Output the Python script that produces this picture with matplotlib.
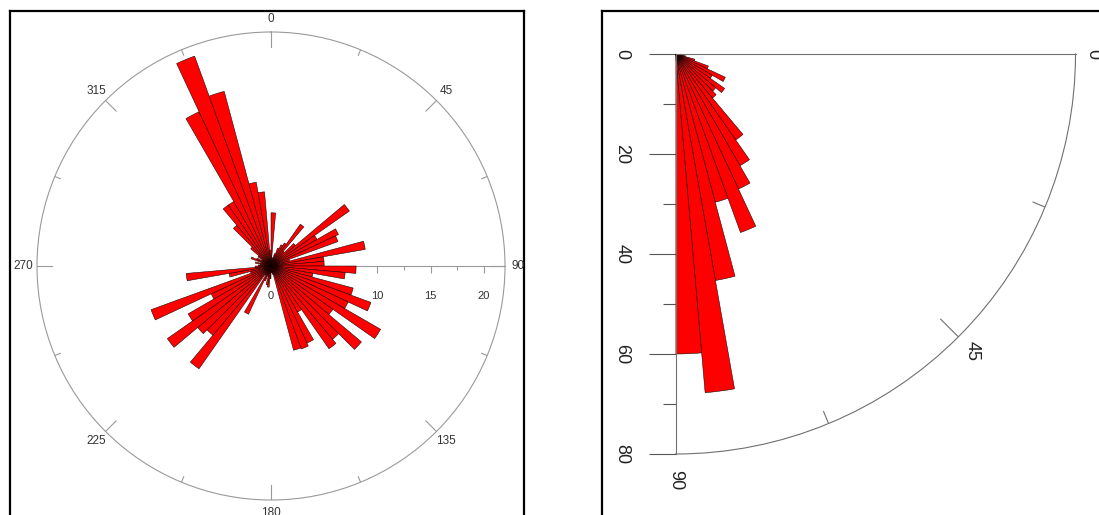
import numpy as np
import matplotlib
matplotlib.use("Agg")
import matplotlib.pyplot as plt

plt.rcParams["font.family"] = ["Liberation Sans", "DejaVu Sans"]

# left rose: 5 degree bins, compass angle (0 = north, clockwise)
strike_bins = np.arange(0, 360, 5)
strike_counts = [
    5.0, 0.6, 0.8, 1.2, 1.8, 2.2, 2.5, 4.8, 1.8, 3.0, 9.0, 5.0,      # 0-55
    7.0, 6.7, 1.8, 9.0, 5.0, 5.0, 8.0, 7.0, 4.0, 8.0, 10.0, 8.0,     # 60-115
    11.9, 7.1, 11.1, 9.0, 9.5, 5.0, 8.0, 8.3, 8.2, 0.8, 0.6, 0.6,   # 120-175
    1.2, 2.0, 1.8, 1.0, 1.5, 5.0, 1.0, 11.8, 8.5, 9.0, 11.9, 9.0,   # 180-235
    6.2, 12.0, 2.0, 4.0, 8.0, 1.5, 1.2, 1.0, 1.5, 1.0, 2.0, 1.5,    # 240-295
    1.0, 1.5, 2.5, 5.0, 7.0, 7.0, 16.0, 21.0, 17.0, 8.0, 7.0, 1.5,  # 300-355
]
strike_rmax = 22
strike_ticks = [0, 5, 10, 15, 20]
strike_minor = [2.5, 7.5, 12.5, 17.5]
compass_labels = [0, 45, 90, 135, 180, 225, 270, 315]

# right quarter rose: 5 degree bins, 0 = horizontal (east), 90 = down
dip_bins = np.arange(0, 90, 5)
dip_counts = [0.8, 1.2, 2.0, 4.0, 7.0, 11.0, 8.5, 12.0, 10.5,
              11.5, 21.0, 25.8, 29.8, 38.0, 30.7, 46.0, 68.0, 60.0]
dip_rmax = 80
dip_ticks = [0, 20, 40, 60, 80]
dip_minor = [10, 30, 50, 70]
dip_labels = [0, 45, 90]

W, H = 1099, 515
GREY = "#9a9a9a"


def box(x0, y0, w, h):
    # pixel box measured from the top-left corner -> figure fraction
    return [x0 / W, 1 - (y0 + h) / H, w / W, h / H]


def frame_axes(fig, rect):
    ax = fig.add_axes(rect, zorder=0)
    ax.set_xticks([])
    ax.set_yticks([])
    ax.patch.set_alpha(0)
    for sp in ax.spines.values():
        sp.set_linewidth(1.6)
        sp.set_color("black")
    return ax


fig = plt.figure(figsize=(W / 100, H / 100), dpi=100)

# ---------------- left panel ----------------
frame_axes(fig, box(10, 11, 514, 530))

cx, cy, R = 271, 266, 234
scale = fig.add_axes(box(cx - R, cy - R, 2 * R, 2 * R), zorder=1)
scale.patch.set_alpha(0)
scale.set_xlim(-strike_rmax, strike_rmax)
scale.set_ylim(-strike_rmax, strike_rmax)
for side in ("left", "right", "top"):
    scale.spines[side].set_visible(False)
scale.spines["bottom"].set_position(("data", 0))
scale.spines["bottom"].set_bounds(0, strike_rmax)
scale.spines["bottom"].set_color(GREY)
scale.spines["bottom"].set_linewidth(0.8)
scale.set_yticks([])
scale.set_xticks(strike_ticks)
scale.set_xticks(strike_minor, minor=True)
scale.tick_params(axis="x", which="major", length=5, width=0.8, color=GREY,
                  pad=13, labelsize=8, labelcolor="#333333")
scale.tick_params(axis="x", which="minor", length=3, width=0.8, color=GREY)

ax1 = fig.add_axes(box(cx - R, cy - R, 2 * R, 2 * R), projection="polar", zorder=2)
ax1.patch.set_alpha(0)
ax1.set_theta_zero_location("N")
ax1.set_theta_direction(-1)
ax1.bar(np.deg2rad(strike_bins), strike_counts, width=np.deg2rad(5), align="edge",
        color="#ff0000", edgecolor="black", linewidth=0.35)
ax1.set_ylim(0, strike_rmax)
ax1.set_xticks([])
ax1.set_yticks([])
ax1.grid(False)
ax1.spines["polar"].set_color(GREY)
ax1.spines["polar"].set_linewidth(0.8)
for a in np.arange(0, 360, 22.5):
    tl = 1.4 if a % 45 == 0 else 0.55
    ax1.plot([np.deg2rad(a)] * 2, [strike_rmax - tl, strike_rmax], color=GREY, lw=0.8)
for a in compass_labels:
    ax1.text(np.deg2rad(a), 23.25, str(a), ha="center", va="center",
             fontsize=8.5, color="#333333", clip_on=False)

# ---------------- right panel ----------------
frame_axes(fig, box(602, 11, 520, 530))

ox, oy, R2 = 675.5, 54, 400
ax2 = fig.add_axes(box(ox, oy, R2, R2), projection="polar", zorder=2)
ax2.patch.set_alpha(0)
ax2.set_theta_zero_location("E")
ax2.set_theta_direction(-1)
ax2.set_thetamin(0)
ax2.set_thetamax(90)
ax2.bar(np.deg2rad(dip_bins), dip_counts, width=np.deg2rad(5), align="edge",
        color="#ff0000", edgecolor="black", linewidth=0.35)
ax2.set_ylim(0, dip_rmax)
ax2.set_xticks([])
ax2.set_yticks([])
ax2.grid(False)
for name in ("polar", "start", "end"):
    ax2.spines[name].set_color("#707070")
    ax2.spines[name].set_linewidth(0.8)
for a in (22.5, 45, 67.5):
    tl = 5 if a == 45 else 2.6
    ax2.plot([np.deg2rad(a)] * 2, [dip_rmax - tl, dip_rmax], color="#707070", lw=0.8)
for a, rr in zip(dip_labels, (83.5, 84, 85.2)):
    ax2.text(np.deg2rad(a), rr, str(a), ha="center", va="center", rotation=-90,
             fontsize=13, color="#222222", clip_on=False)

rad = fig.add_axes(box(ox, oy, R2, R2), zorder=1)
rad.patch.set_alpha(0)
for sp in rad.spines.values():
    sp.set_visible(False)
rad.set_xlim(0, 1)
rad.set_ylim(dip_rmax, 0)
rad.set_xticks([])
rad.set_yticks(dip_ticks)
rad.set_yticks(dip_minor, minor=True)
rad.tick_params(axis="y", which="major", length=19.4, width=0.8, color="#555555",
                pad=13, labelsize=13, labelcolor="#222222", labelrotation=-90)
rad.tick_params(axis="y", which="minor", length=9.4, width=0.8, color="#555555")
for lab in rad.get_yticklabels():
    lab.set_va("center")

fig.savefig("out.png", dpi=100)
